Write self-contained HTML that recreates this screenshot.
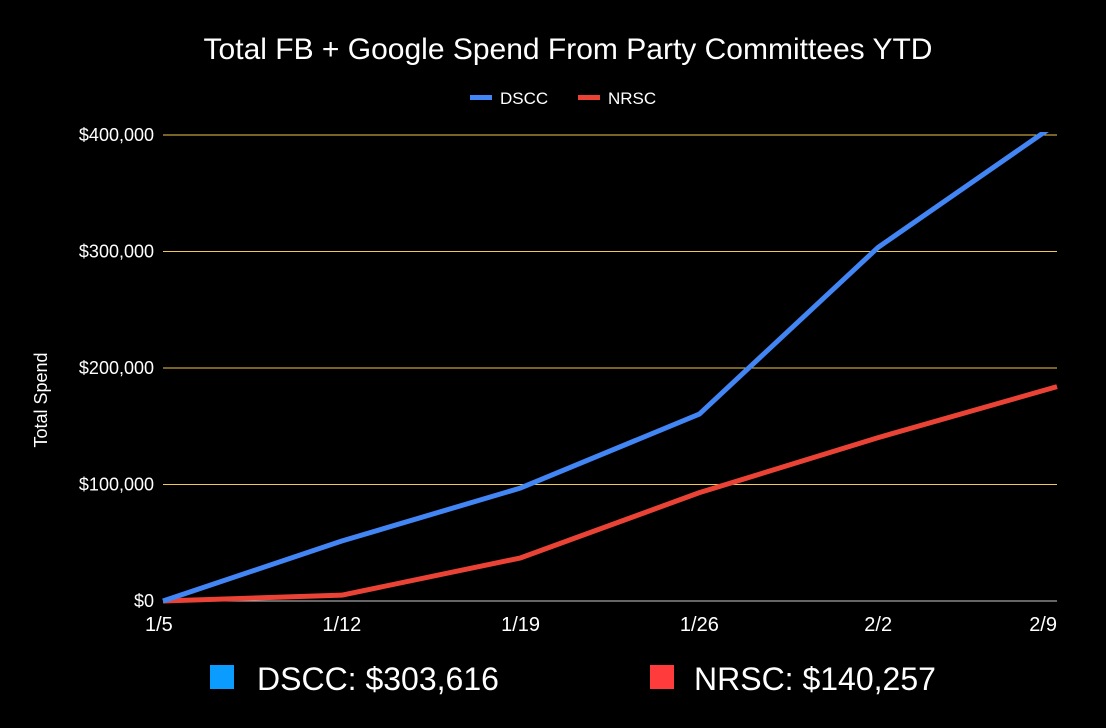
<!DOCTYPE html>
<html><head><meta charset="utf-8"><style>
html,body{margin:0;padding:0;background:#000;}
svg{display:block;font-family:"Liberation Sans",sans-serif;}
</style></head><body>
<svg id="chart" width="1106" height="728" viewBox="0 0 1106 728">
<rect width="1106" height="728" fill="#000"/>
<text x="568" y="59" fill="#fff" font-size="30" text-anchor="middle">Total FB + Google Spend From Party Committees YTD</text>
<g>
<g><rect x="470" y="95" width="22" height="5" fill="#4285f4"/><text x="500" y="104" fill="#fff" font-size="17">DSCC</text></g>
<g><rect x="578" y="95" width="22" height="5" fill="#ea4335"/><text x="608" y="104" fill="#fff" font-size="17">NRSC</text></g>
</g>
<text transform="translate(47,400) rotate(-90)" fill="#fff" font-size="18" text-anchor="middle">Total Spend</text>
<g id="grid"></g><g id="yt"></g><g id="xt"></g><g id="lines"></g>
<g>
<rect x="210" y="665" width="24" height="24" fill="#0a9cff"/>
<text x="257" y="690" fill="#fff" font-size="32">DSCC: $303,616</text>
<rect x="650" y="665" width="24" height="24" fill="#ff3b3b"/>
<text x="694" y="690" fill="#fff" font-size="32">NRSC: $140,257</text>
</g>
</svg>
<script>
const categories=["1/5","1/12","1/19","1/26","2/2","2/9"];
const dscc=[0,51500,97000,160500,303616,410000];
const nrsc=[0,5000,37000,93000,140257,184000];
const yTicks=[0,100000,200000,300000,400000];
const yLabels=["$0","$100,000","$200,000","$300,000","$400,000"];
const NS="http://www.w3.org/2000/svg";
const x0=163,x1=1057,yBase=601,yTop=135,yMax=400000;
const xs=i=>x0+(x1-x0)*i/(categories.length-1);
const ys=v=>yBase-(yBase-yTop)*v/yMax;
function mk(t,a,p){const e=document.createElementNS(NS,t);for(const k in a)e.setAttribute(k,a[k]);p.appendChild(e);return e;}
const grid=document.getElementById('grid'),yt=document.getElementById('yt'),xt=document.getElementById('xt'),lines=document.getElementById('lines');
yTicks.forEach((v,i)=>{
 const l=mk('line',{x1:x0,x2:x1,y1:ys(v),y2:ys(v),stroke:v===0?'#ccc':'#f2c94c','stroke-width':1},grid);
 
 
 const t=mk('text',{x:154,y:ys(v)+6,fill:'#fff','font-size':18,'text-anchor':'end'},yt);
 t.textContent=yLabels[i];
 
 
});
categories.forEach((c,i)=>{
 let anchor=i===0?'start':(i===categories.length-1?'end':'middle');
 let xx=i===0?x0-18:xs(i);
 const t=mk('text',{x:xx,y:631,fill:'#fff','font-size':20,'text-anchor':anchor},xt);
 t.textContent=c;
 
 
});
mk('clipPath',{id:'clip'},lines);
mk('rect',{x:x0-5,y:yTop-3,width:x1-x0+10,height:yBase-yTop+10},document.getElementById('clip'));
function series(vals,color,name){
 const p=mk('polyline',{points:vals.map((v,i)=>xs(i)+','+ys(v)).join(' '),fill:'none',stroke:color,'stroke-width':5,'stroke-linejoin':'round','clip-path':'url(#clip)'},lines);
 
 
}
series(nrsc,'#ea4335','nrsc-line');
series(dscc,'#4285f4','dscc-line');
</script>
</body></html>
